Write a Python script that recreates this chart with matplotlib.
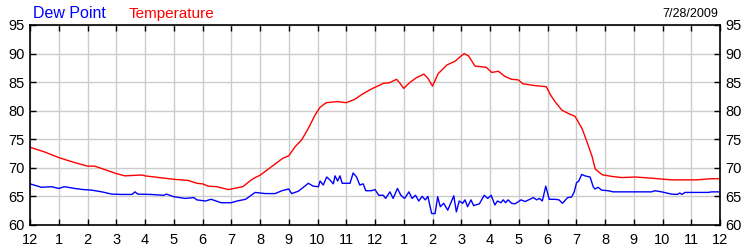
import matplotlib
matplotlib.use('Agg')
import matplotlib.pyplot as plt

plt.rcParams['font.family'] = ['Liberation Sans', 'DejaVu Sans']

# hours since midnight and readings (deg F)
temp_hours = [0, 0.5, 1, 1.5, 2, 2.25, 2.6, 3, 3.3, 3.9, 4, 4.5, 5, 5.5, 5.8, 6,
              6.2, 6.5, 6.9, 7, 7.4, 7.7, 7.83, 8, 8.4, 8.8, 9, 9.22, 9.45, 9.68,
              9.91, 10.09, 10.3, 10.7, 11, 11.3, 11.5, 11.8, 12, 12.3, 12.5, 12.75,
              12.87, 13, 13.2, 13.45, 13.7, 13.85, 14, 14.2, 14.5, 14.8, 14.95,
              15.1, 15.25, 15.48, 15.87, 16.06, 16.29, 16.52, 16.75, 16.98, 17.15,
              17.56, 17.96, 18.1, 18.26, 18.5, 18.73, 18.96, 19.2, 19.37, 19.55,
              19.66, 19.9, 20.24, 20.59, 21.05, 21.6, 22.3, 23.2, 23.7, 24]
temp_vals = [73.6, 72.8, 71.8, 71.0, 70.3, 70.3, 69.7, 69.0, 68.6, 68.75, 68.6, 68.3,
             68.0, 67.8, 67.3, 67.2, 66.8, 66.7, 66.2, 66.3, 66.7, 67.9, 68.3, 68.7,
             70.2, 71.7, 72.1, 73.7, 74.9, 76.9, 79.2, 80.6, 81.4, 81.6, 81.4, 82.0,
             82.7, 83.6, 84.1, 84.8, 84.9, 85.5, 84.8, 83.9, 84.9, 85.8, 86.4, 85.6,
             84.3, 86.5, 88.0, 88.7, 89.4, 90.0, 89.6, 87.8, 87.6, 86.7, 86.9, 86.0,
             85.5, 85.4, 84.7, 84.4, 84.2, 82.8, 81.6, 80.1, 79.5, 79.0, 76.9, 74.6,
             72.0, 69.8, 68.8, 68.5, 68.3, 68.4, 68.2, 67.9, 67.9, 68.1, 68.1]

dew_hours = [0, 0.4, 0.75, 1, 1.2, 1.55, 1.85, 2.15, 2.5, 2.85, 3.2, 3.55, 3.65, 3.75,
             4.2, 4.65, 4.75, 5, 5.4, 5.7, 5.8, 6.1, 6.3, 6.65, 7, 7.2, 7.5, 7.83,
             8.18, 8.53, 8.76, 9, 9.1, 9.33, 9.56, 9.68, 9.85, 10.03, 10.09, 10.2,
             10.32, 10.43, 10.55, 10.61, 10.7, 10.78, 10.86, 11.13, 11.24, 11.36,
             11.47, 11.59, 11.68, 11.88, 12, 12.13, 12.29, 12.37, 12.52, 12.63,
             12.78, 12.9, 13.03, 13.18, 13.29, 13.41, 13.52, 13.64, 13.75, 13.84,
             13.97, 14.09, 14.18, 14.27, 14.39, 14.53, 14.74, 14.83, 14.93, 15.05,
             15.13, 15.22, 15.34, 15.43, 15.63, 15.8, 15.92, 16.04, 16.17, 16.26,
             16.38, 16.46, 16.54, 16.63, 16.75, 16.87, 17.08, 17.22, 17.39, 17.51,
             17.62, 17.72, 17.82, 17.94, 18.06, 18.26, 18.4, 18.52, 18.7, 18.84,
             18.93, 19.01, 19.09, 19.19, 19.3, 19.48, 19.59, 19.65, 19.76, 19.88,
             20.11, 20.28, 21.04, 21.62, 21.74, 21.97, 22.32, 22.52, 22.6, 22.68,
             22.78, 23.24, 23.59, 23.71, 24]
dew_vals = [67.2, 66.6, 66.7, 66.4, 66.7, 66.4, 66.2, 66.1, 65.8, 65.4, 65.35, 65.35,
            65.8, 65.4, 65.35, 65.2, 65.4, 64.95, 64.65, 64.8, 64.4, 64.2, 64.5, 63.9,
            63.9, 64.2, 64.5, 65.7, 65.5, 65.5, 66.0, 66.3, 65.5, 65.9, 66.8, 67.3,
            66.8, 66.7, 67.7, 67.0, 68.4, 67.9, 67.2, 68.6, 67.7, 68.6, 67.3, 67.3,
            69.1, 68.4, 67.0, 67.2, 66.0, 66.0, 66.2, 65.2, 65.2, 64.65, 65.8, 64.65,
            66.4, 65.2, 64.65, 65.8, 64.65, 65.2, 64.2, 65.0, 64.4, 65.0, 62.0, 62.0,
            64.95, 63.2, 63.8, 62.6, 65.1, 62.3, 64.2, 63.8, 64.4, 63.2, 64.4, 63.4,
            63.7, 65.2, 64.65, 65.2, 63.5, 64.2, 63.9, 64.4, 63.9, 64.4, 63.8, 63.7,
            64.4, 64.1, 64.5, 64.8, 64.4, 64.65, 64.2, 66.8, 64.5, 64.5, 64.4, 63.8,
            64.8, 64.9, 65.8, 67.4, 67.7, 68.85, 68.6, 68.4, 66.7, 66.3, 66.6, 66.1,
            66.0, 65.8, 65.8, 65.8, 66.0, 65.8, 65.4, 65.35, 65.6, 65.35, 65.7, 65.7,
            65.7, 65.8, 65.8]

hour_labels = ['12', '1', '2', '3', '4', '5', '6', '7', '8', '9', '10', '11',
               '12', '1', '2', '3', '4', '5', '6', '7', '8', '9', '10', '11', '12']
y_ticks = [60, 65, 70, 75, 80, 85, 90, 95]

fig = plt.figure(figsize=(7.5, 2.5), dpi=100)
ax = fig.add_axes([0.04, 0.1, 0.92, 0.8])

ax.plot(temp_hours, temp_vals, color='#ff0000', lw=1)
ax.plot(dew_hours, dew_vals, color='#0000ff', lw=1)

ax.set_xlim(0, 24)
ax.set_ylim(60, 95)
ax.set_xticks(range(25))
ax.set_xticklabels(hour_labels)
ax.set_yticks(y_ticks)
ax.grid(True, color='#cccccc', lw=1)
ax.set_axisbelow(True)

ax.tick_params(axis='both', direction='in', length=4, width=1, labelsize=10.5,
               top=True, right=True, labelright=True, pad=4)
ax.tick_params(axis='x', pad=6)
for s in ax.spines.values():
    s.set_linewidth(1.2)
    s.set_color('black')

fig.text(0.044, 0.928, 'Dew Point', color='#0000ff', fontsize=11.5, va='baseline')
fig.text(0.171, 0.928, 'Temperature', color='#ff0000', fontsize=11, va='baseline')
fig.text(0.958, 0.933, '7/28/2009', color='black', fontsize=9, va='baseline', ha='right')

fig.savefig('out.png', dpi=100)
